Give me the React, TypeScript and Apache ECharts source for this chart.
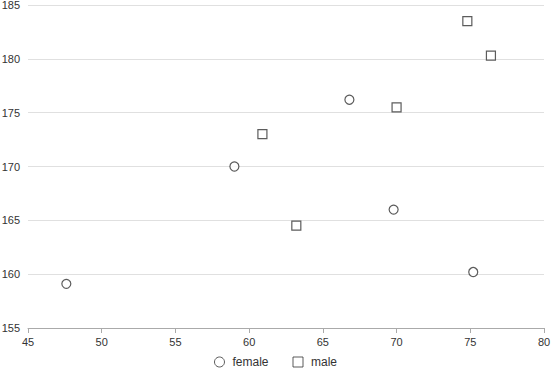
import React, { useEffect, useRef } from "react";
import * as echarts from "echarts";

const femaleWeight = [66.8, 59.0, 69.8, 75.2, 47.6];
const femaleHeight = [176.2, 170.0, 166.0, 160.2, 159.1];
const maleWeight = [74.8, 76.4, 70.0, 60.9, 63.2];
const maleHeight = [183.5, 180.3, 175.5, 173.0, 164.5];

const zip = (a: number[], b: number[]) => a.map((v, i) => [v, b[i]]);

export default function App() {
  const ref = useRef<HTMLDivElement>(null);
  useEffect(() => {
    const chart = echarts.init(ref.current!, null, { renderer: "svg" });
    const font = "Liberation Sans, Arial, sans-serif";
    const markerStyle = { color: "#fff", borderColor: "#333", borderWidth: 1.2 };
    chart.setOption({
      animation: false,
      textStyle: { fontFamily: font },
      grid: { left: 28, right: 7, top: 5, bottom: 49, outerBoundsMode: "none", containLabel: false },
      legend: {
        bottom: 4,
        left: "center",
        itemWidth: 10,
        itemHeight: 10,
        itemGap: 24,
        itemStyle: { borderWidth: 1 },
        textStyle: { fontFamily: font, fontSize: 12, color: "#333", padding: [0, 0, 0, 3] },
        data: ["female", "male"],
      },
      xAxis: {
        type: "value",
        min: 45,
        max: 80,
        interval: 5,
        splitLine: { show: false },
        axisLine: { lineStyle: { color: "#aaa" } },
        axisTick: { show: true, lineStyle: { color: "#aaa" } },
        axisLabel: { color: "#333", fontSize: 11, fontFamily: font },
      },
      yAxis: {
        type: "value",
        min: 155,
        max: 185,
        interval: 5,
        axisLine: { show: false },
        axisTick: { show: false },
        splitLine: { lineStyle: { color: "#e0e0e0" } },
        axisLabel: { color: "#333", fontSize: 11, fontFamily: font },
      },
      series: [
        {
          name: "female",
          type: "scatter",
          symbol: "circle",
          symbolSize: 9,
          itemStyle: markerStyle,
          data: zip(femaleWeight, femaleHeight),
        },
        {
          name: "male",
          type: "scatter",
          symbol: "rect",
          symbolSize: 9,
          itemStyle: markerStyle,
          data: zip(maleWeight, maleHeight),
        },
      ],
    });
    return () => chart.dispose();
  }, []);
  return <div ref={ref} style={{ width: 551, height: 377, position: "absolute", left: 0, top: 0 }} />;
}
